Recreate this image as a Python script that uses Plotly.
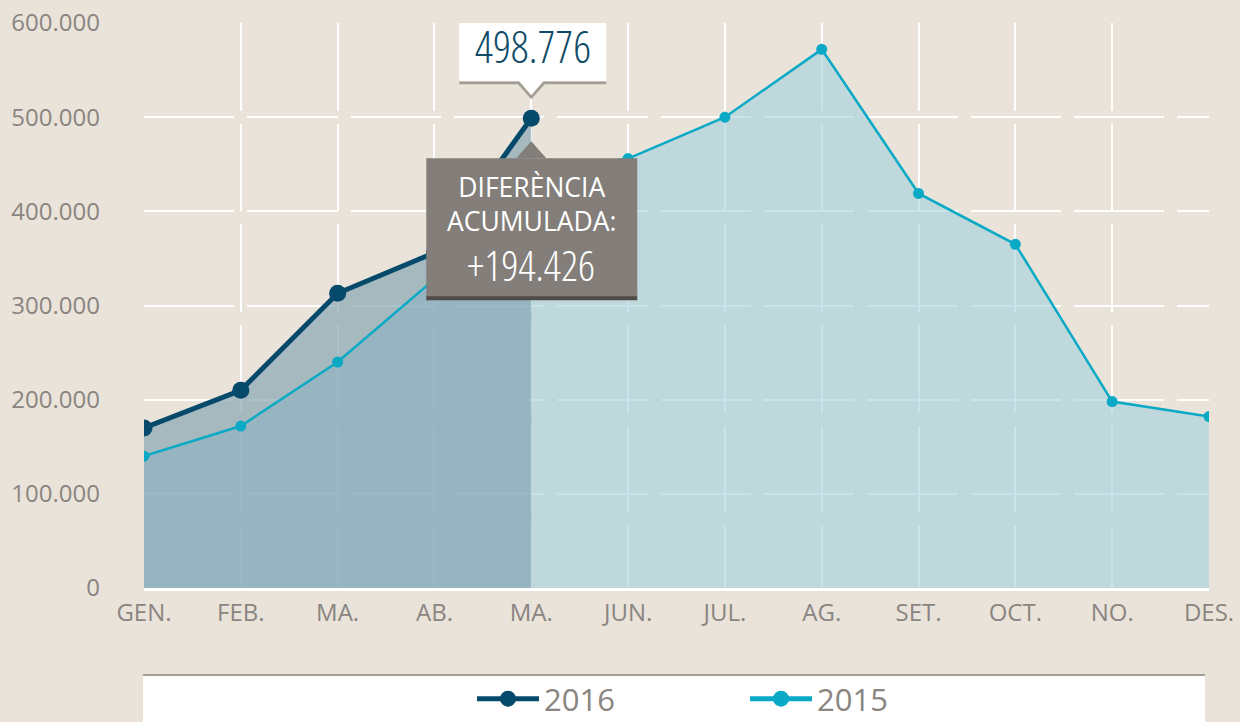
import plotly.graph_objects as go

# ---------------- data ----------------
months = ["GEN.", "FEB.", "MA.", "AB.", "MA.", "JUN.", "JUL.", "AG.", "SET.", "OCT.", "NO.", "DES."]
x_idx = list(range(len(months)))
values_2016 = [170000, 210000, 313000, 356000, 498776]
values_2015 = [140000, 172000, 240000, 328000, 440000, 456000, 500000, 572000, 419000, 365000, 198000, 182000]
y_tickvals = [0, 100000, 200000, 300000, 400000, 500000, 600000]
y_ticktext = ["0", "100.000", "200.000", "300.000", "400.000", "500.000", "600.000"]
peak_label = "498.776"
diff_label_lines = ["DIFERÈNCIA", "ACUMULADA:"]
diff_value_label = "+194.426"

BG = "#e9e3da"
DARK = "#064a6b"
TEAL = "#0aa9c6"
GRAY_TXT = "#8a8580"
NARROW = "Open Sans, Roboto, sans-serif"

x16 = x_idx[:len(values_2016)]

fig = go.Figure()

# 2015 full-year area
fig.add_trace(go.Scatter(x=x_idx, y=values_2015, mode="lines", line=dict(width=0),
                         fill="tozeroy", fillcolor="rgba(163,209,221,0.6)",
                         showlegend=False, hoverinfo="skip"))
# 2016 area (to date)
fig.add_trace(go.Scatter(x=x16, y=values_2016, mode="lines", line=dict(width=0),
                         fill="tozeroy", fillcolor="rgba(131,164,177,0.67)",
                         showlegend=False, hoverinfo="skip"))
# lines
fig.add_trace(go.Scatter(x=x16, y=values_2016, mode="lines+markers", name="2016",
                         line=dict(color=DARK, width=5), marker=dict(color=DARK, size=17),
                         showlegend=False))
fig.add_trace(go.Scatter(x=x_idx, y=values_2015, mode="lines+markers", name="2015",
                         line=dict(color=TEAL, width=2.5), marker=dict(color=TEAL, size=11),
                         showlegend=False))
# legend entries (same style for both series in the legend)
fig.add_trace(go.Scatter(x=[None], y=[None], mode="lines+markers", name="2016",
                         line=dict(color=DARK, width=5), marker=dict(color=DARK, size=17),
                         legendrank=1))
fig.add_trace(go.Scatter(x=[None], y=[None], mode="lines+markers", name="2015",
                         line=dict(color=TEAL, width=5), marker=dict(color=TEAL, size=17),
                         legendrank=2))

# ---------------- layout ----------------
ml, mr, mt, mb = 144, 31, 23, 134
W, H = 1240, 722
pw = W - ml - mr
ph = H - mt - mb
cat_px = pw / (len(months) - 1)
row_px = ph / (len(y_tickvals) - 1)
gap = 6.5
xdash = f"{cat_px - gap:.2f}px,{2*gap:.1f}px"
ydash = f"{row_px - gap:.2f}px,{2*gap:.1f}px"

fig.update_layout(
    width=W, height=H,
    margin=dict(l=ml, r=mr, t=mt, b=mb, autoexpand=False),
    paper_bgcolor=BG, plot_bgcolor=BG,
    font=dict(family="Open Sans, sans-serif", color=GRAY_TXT),
    xaxis=dict(range=[0, len(months) - 1], tickvals=x_idx, ticktext=months,
               showgrid=True, gridcolor="white", gridwidth=2, griddash=ydash,
               showline=True, linecolor="white", linewidth=3,
               zeroline=False, ticks="", tickfont=dict(size=24, color=GRAY_TXT),
               ticklabelstandoff=1, fixedrange=True),
    yaxis=dict(range=[0, 600000], tickvals=y_tickvals, ticktext=y_ticktext,
               showgrid=True, gridcolor="white", gridwidth=2, griddash=xdash,
               zeroline=False, ticks="", tickfont=dict(size=24, color=GRAY_TXT),
               ticklabelstandoff=43, fixedrange=True),
    showlegend=True,
    legend=dict(orientation="h", x=(472 - ml) / pw, xanchor="left",
                y=(H - mb - 699) / ph, yanchor="middle",
                bgcolor="rgba(0,0,0,0)", font=dict(size=31, color=GRAY_TXT),
                entrywidth=196, entrywidthmode="pixels", itemwidth=62,
                traceorder="normal"),
    hovermode=False,
)

# legend panel
fig.add_shape(type="rect", xref="paper", yref="paper",
              x0=(143 - ml) / pw, x1=(1205 - ml) / pw,
              y0=(H - mb - 675) / ph, y1=(H - mb - 740) / ph,
              fillcolor="white", line=dict(width=0), layer="below")
fig.add_shape(type="line", xref="paper", yref="paper",
              x0=(143 - ml) / pw, x1=(1205 - ml) / pw,
              y0=(H - mb - 675) / ph, y1=(H - mb - 675) / ph,
              line=dict(color="#a29e94", width=2), layer="below")

ax, ay = x16[-1], values_2016[-1]
common = dict(xref="x", yref="y", xsizemode="pixel", ysizemode="pixel",
              xanchor=ax, yanchor=ay, layer="above")

# white value callout
fig.add_shape(type="rect", x0=-72, x1=75, y0=34, y1=37, fillcolor="#a29e94", line=dict(width=0), **common)
fig.add_shape(type="path", path="M-16,37 L16,37 L0,19 Z", fillcolor="#a29e94", line=dict(width=0), **common)
fig.add_shape(type="rect", x0=-72, x1=75, y0=37, y1=112, fillcolor="white", line=dict(width=0), **common)
fig.add_shape(type="path", path="M-13,38 L13,38 L0,23 Z", fillcolor="white", line=dict(width=0), **common)

# gray difference callout
fig.add_shape(type="rect", x0=-105, x1=106, y0=-182, y1=-177, fillcolor="#514b47", line=dict(width=0), **common)
fig.add_shape(type="rect", x0=-105, x1=106, y0=-178, y1=-40, fillcolor="#837e7a", line=dict(width=0), **common)
fig.add_shape(type="path", path="M-15,-40 L15,-40 L0,-23 Z", fillcolor="#837e7a", line=dict(width=0), **common)

cond = '<span style="font-stretch:75%">{}</span>'
fig.add_annotation(x=ax, y=ay, xref="x", yref="y", text=cond.format(peak_label), showarrow=False,
                   yshift=72, xshift=2,
                   font=dict(family=NARROW, size=44, weight=300, color="#0f4c68"))
fig.add_annotation(x=ax, y=ay, xref="x", yref="y", text="<br>".join(diff_label_lines), showarrow=False,
                   yshift=-86, font=dict(size=26.5, color="white"))
fig.add_annotation(x=ax, y=ay, xref="x", yref="y", text=cond.format(diff_value_label), showarrow=False,
                   yshift=-146,
                   font=dict(family=NARROW, size=42, weight=300, color="white"))

fig.write_html("out.html", config={"displayModeBar": False},
               post_script="document.body.style.margin='0';")
